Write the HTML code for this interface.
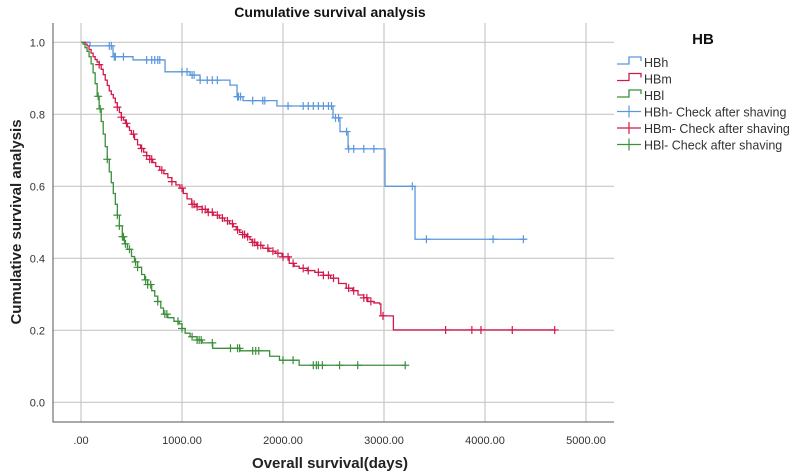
<!DOCTYPE html>
<html><head><meta charset="utf-8">
<style>
body{margin:0;background:#fff;}
svg{display:block;font-family:"Liberation Sans",Arial,sans-serif;}
</style></head>
<body>
<svg id="chart" width="797" height="474" viewBox="0 0 797 474">
<text x="330" y="17" text-anchor="middle" font-size="14" font-weight="bold" fill="#111">Cumulative survival analysis</text>
<g id="grid"></g>
<g id="axes"></g>
<g id="series"></g>
<text transform="translate(21,222) rotate(-90)" text-anchor="middle" font-size="15" font-weight="bold" fill="#222">Cumulative survival analysis</text>
<text x="330" y="468" text-anchor="middle" font-size="15" font-weight="bold" fill="#222">Overall survival(days)</text>
<g id="legend"></g>
</svg>
<script>
const xTicks=[0,1000,2000,3000,4000,5000];
const xTickLabels=[".00","1000.00","2000.00","3000.00","4000.00","5000.00"];
const yTicks=[0,0.2,0.4,0.6,0.8,1.0];
const yTickLabels=["0.0","0.2","0.4","0.6","0.8","1.0"];
const seriesNames=["HBh","HBm","HBl"];
const legendLabels=["HBh","HBm","HBl","HBh- Check after shaving","HBm- Check after shaving","HBl- Check after shaving"];
const hTimes=[0,89,317,515,832,1080,1178,1475,1545,1604,1940,2495,2564,2644,3010,3307,4400];
const hSurv=[1,0.99,0.96,0.951,0.918,0.909,0.895,0.881,0.849,0.838,0.823,0.79,0.752,0.704,0.60,0.453,0.453];
const hCens=[280,300,330,340,420,650,700,730,760,780,1000,1050,1100,1120,1180,1250,1300,1350,1550,1560,1580,1700,1800,1820,2050,2200,2250,2300,2350,2400,2450,2480,2520,2550,2630,2650,2700,2800,2900,3280,3420,4080,4380];
const mTimes=[0,40,60,80,100,120,140,160,180,200,220,240,260,280,300,320,340,360,380,400,420,440,460,480,500,530,560,590,620,650,680,710,740,780,820,860,900,940,980,1013,1050,1096,1140,1200,1250,1310,1370,1420,1470,1508,1537,1570,1600,1640,1673,1693,1740,1800,1860,1926,1990,2062,2110,2160,2240,2315,2400,2471,2550,2626,2690,2743,2800,2840,2900,2957,2969,3093,4700];
const mSurv=[1,0.995,0.99,0.98,0.97,0.96,0.952,0.945,0.938,0.925,0.91,0.895,0.88,0.865,0.855,0.845,0.832,0.82,0.805,0.792,0.784,0.775,0.765,0.755,0.745,0.73,0.715,0.705,0.695,0.685,0.675,0.666,0.655,0.645,0.635,0.624,0.613,0.604,0.595,0.58,0.565,0.55,0.543,0.536,0.528,0.52,0.512,0.504,0.496,0.488,0.479,0.472,0.466,0.46,0.452,0.444,0.436,0.428,0.42,0.414,0.404,0.386,0.378,0.372,0.366,0.361,0.353,0.345,0.33,0.317,0.31,0.298,0.29,0.28,0.276,0.273,0.24,0.201,0.201];
const mCens=[180,360,400,450,520,600,650,680,700,800,900,1000,1100,1120,1150,1200,1230,1260,1300,1350,1400,1450,1500,1550,1600,1620,1650,1700,1720,1750,1780,1850,1900,1950,2000,2050,2100,2200,2250,2350,2400,2450,2500,2650,2700,2800,2830,2870,2990,3610,3870,3960,4270,4690];
const lTimes=[0,20,40,60,80,100,120,140,160,180,200,220,240,260,280,300,320,340,360,380,409,430,460,500,530,560,600,630,660,700,730,760,790,817,860,920,973,1000,1031,1080,1148,1200,1304,1576,1868,1965,2160,3210];
const lSurv=[1,0.995,0.985,0.975,0.96,0.94,0.915,0.885,0.85,0.815,0.78,0.745,0.71,0.675,0.64,0.61,0.58,0.55,0.52,0.49,0.46,0.44,0.425,0.405,0.39,0.375,0.355,0.34,0.327,0.31,0.295,0.28,0.262,0.245,0.235,0.225,0.218,0.205,0.192,0.182,0.173,0.165,0.150,0.143,0.128,0.117,0.103,0.103];
const lCens=[170,190,260,360,380,410,420,440,480,540,560,640,660,690,760,830,850,960,1000,1100,1150,1170,1190,1300,1480,1550,1570,1700,1730,1760,2000,2100,2300,2330,2350,2390,2560,2740,3210];
const colors=["#5b97dc","#d2194b","#3c8f3c"];

const NS="http://www.w3.org/2000/svg";
const X=t=>81+t*0.101;
const Y=s=>402.3-s*360;
function mk(tag,attrs,parent){const e=document.createElementNS(NS,tag);for(const k in attrs)e.setAttribute(k,attrs[k]);parent.appendChild(e);return e;}
const grid=document.getElementById('grid'),axes=document.getElementById('axes'),ser=document.getElementById('series'),leg=document.getElementById('legend');
xTicks.forEach((t,i)=>{
  const l=mk('line',{x1:X(t),x2:X(t),y1:23,y2:422,stroke:'#c8c8c8','stroke-width':1.2},grid);
  
  
  const tx=mk('text',{x:X(t),y:444,'text-anchor':'middle','font-size':11,fill:'#333'},axes);
  tx.textContent=xTickLabels[i];
  
  
});
yTicks.forEach((s,i)=>{
  const l=mk('line',{x1:53,x2:614,y1:Y(s),y2:Y(s),stroke:'#c8c8c8','stroke-width':1.2},grid);
  
  
  const tx=mk('text',{x:45,y:Y(s)+4,'text-anchor':'end','font-size':11,fill:'#333'},axes);
  tx.textContent=yTickLabels[i];
  
  
});
const ax=mk('path',{d:'M53 23 V422 H614',fill:'none',stroke:'#555','stroke-width':1},axes);



function stepAt(times,surv,t){let s=surv[0];for(let i=0;i<times.length;i++){if(times[i]<=t)s=surv[i];else break;}return s;}
const all=[[hTimes,hSurv,hCens],[mTimes,mSurv,mCens],[lTimes,lSurv,lCens]];
all.forEach((d,k)=>{
  const [tt,ss,cc]=d;
  let p='M'+X(tt[0])+' '+Y(ss[0]);
  for(let i=1;i<tt.length;i++){p+=' H'+X(tt[i])+' V'+Y(ss[i]);}
  const path=mk('path',{d:p,fill:'none',stroke:colors[k],'stroke-width':1.3},ser);
  
  
  cc.forEach(t=>{
    const cx=X(t),cy=Y(stepAt(tt,ss,t));
    const m=mk('path',{d:`M${cx-4} ${cy} H${cx+4} M${cx} ${cy-4} V${cy+4}`,stroke:colors[k],'stroke-width':1.2},ser);
    
    
  });
});
const lt=mk('text',{x:703,y:44,'text-anchor':'middle','font-size':15,'font-weight':'bold',fill:'#111'},leg);
lt.textContent='HB';


legendLabels.forEach((lab,i)=>{
  const y=62+i*16.5,c=colors[i%3];
  const g=mk('g',{},leg);
  
  
  if(i<3) mk('path',{d:`M617 ${y+2} H629 V${y-5} H641 V${y-1}`,fill:'none',stroke:c,'stroke-width':1.3},g);
  else mk('path',{d:`M617 ${y} H641 M629 ${y-6} V${y+6}`,fill:'none',stroke:c,'stroke-width':1.2},g);
  const t=mk('text',{x:644,y:y+5,'font-size':12.5,fill:'#333'},g);
  t.textContent=lab;
});
</script>
</body></html>
